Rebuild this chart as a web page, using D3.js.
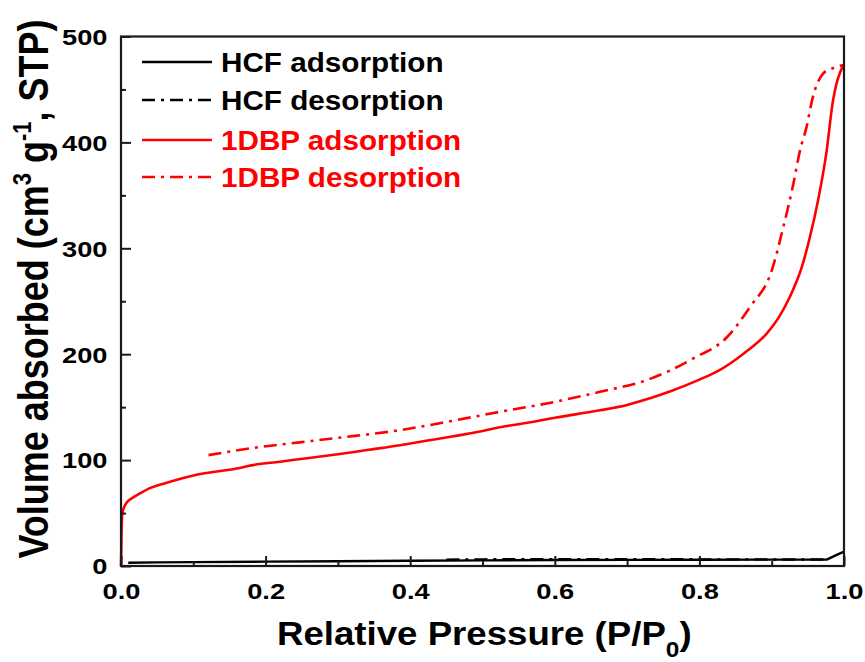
<!DOCTYPE html>
<html>
<head>
<meta charset="utf-8">
<script src="https://cdn.jsdelivr.net/npm/d3@7"></script>
<style>
  html, body { margin: 0; padding: 0; background: #fff; }
  svg { display: block; }
  text { font-family: "Liberation Sans", Arial, sans-serif; font-weight: bold; }
</style>
</head>
<body>
<svg id="chart" width="865" height="662"></svg>
<script>
// ---- Data ----
const hcfAdsX = [0.01, 0.05, 0.1, 0.2, 0.3, 0.4, 0.5, 0.6, 0.7, 0.8, 0.9, 0.976, 0.99, 1.0];
const hcfAdsY = [3, 3.4, 3.7, 4.1, 4.5, 5.0, 5.3, 5.6, 5.8, 5.9, 6.0, 6.0, 10.5, 13.5];

const hcfDesX = [0.45, 0.5, 0.6, 0.7, 0.8, 0.9, 0.976];
const hcfDesY = [6.0, 6.3, 6.5, 6.4, 6.3, 6.2, 6.2];

const dbpAdsX = [0.0, 0.0005, 0.001, 0.002, 0.004, 0.008, 0.015, 0.025, 0.04, 0.06, 0.08, 0.10, 0.13, 0.16,
                 0.18, 0.22, 0.26, 0.30, 0.34, 0.386, 0.42, 0.46, 0.50, 0.524, 0.56, 0.60, 0.6625, 0.70,
                 0.732, 0.76, 0.80, 0.824, 0.861, 0.893, 0.91, 0.925, 0.9415, 0.953, 0.964, 0.976, 0.984, 0.999];
const dbpAdsY = [0, 20, 40, 50, 55, 60, 64, 68, 73.5, 78, 82, 85.5, 89, 92,
                 95, 98.5, 102, 105.5, 109.5, 114, 118, 122.5, 127.5, 131, 135, 140, 147, 152,
                 158.5, 165, 176, 183.5, 200.5, 219.5, 235, 254, 282, 311, 345, 392, 436, 473];

const dbpDesX = [0.121, 0.178, 0.25, 0.30, 0.386, 0.45, 0.524, 0.60, 0.6625, 0.727, 0.7916, 0.838,
                 0.870, 0.90, 0.916, 0.930, 0.939, 0.948, 0.957, 0.971, 0.981, 0.999];
const dbpDesY = [104.7, 111, 117, 121, 128.3, 136, 145.6, 155, 164.5, 175.5, 196, 216,
                 244.6, 279, 320, 361, 392, 414, 443, 465, 469, 473];

const seriesNames = ["HCF adsorption", "HCF desorption", "1DBP adsorption", "1DBP desorption"];
const seriesColors = ["#000000", "#000000", "#ff0000", "#ff0000"];
const seriesDash = [null, "13,6,3,6", null, "13,6,3,6"];

const xTicks = [0, 0.2, 0.4, 0.6, 0.8, 1.0];
const xMinorTicks = [0.1, 0.3, 0.5, 0.7, 0.9];
const yTicks = [0, 100, 200, 300, 400, 500];
const yMinorTicks = [50, 150, 250, 350, 450];

// ---- Layout ----
const svg = d3.select("#chart");
const L = 121, R = 844, T = 36.5, B = 566;
const x = d3.scaleLinear().domain([0, 1]).range([L, R]);
const y = d3.scaleLinear().domain([0, 500]).range([B, T]);

const series = [
  hcfAdsX.map((v, i) => [v, hcfAdsY[i]]),
  hcfDesX.map((v, i) => [v, hcfDesY[i]]),
  dbpAdsX.map((v, i) => [v, dbpAdsY[i]]),
  dbpDesX.map((v, i) => [v, dbpDesY[i]])
];

const line = d3.line().x(d => x(d[0])).y(d => y(d[1]));
const smooth = d3.line().x(d => x(d[0])).y(d => y(d[1])).curve(d3.curveMonotoneX);

series.forEach((s, i) => {
  svg.append("path")
    .datum(s)
    .attr("d", i < 2 ? line : smooth)
    .attr("fill", "none")
    .attr("stroke", seriesColors[i])
    .attr("stroke-width", i < 2 ? 2.4 : 2.6)
    .attr("stroke-dasharray", seriesDash[i])
    .attr("stroke-linejoin", "round");
});

// frame
svg.append("rect")
  .attr("x", L).attr("y", T).attr("width", R - L).attr("height", B - T)
  .attr("fill", "none").attr("stroke", "#1a1a1a").attr("stroke-width", 2.2);

// axes
const tickFont = 22, tickStretch = 1.24;
const xAxis = svg.append("g").attr("transform", `translate(0,${B})`)
  .call(d3.axisBottom(x).tickValues(xTicks).tickFormat(d3.format(".1f")).tickSizeInner(-10).tickSizeOuter(0).tickPadding(17));
const xAxisMinor = svg.append("g").attr("transform", `translate(0,${B})`)
  .call(d3.axisBottom(x).tickValues(xMinorTicks).tickFormat("").tickSizeInner(-5).tickSizeOuter(0));
const yAxis = svg.append("g").attr("transform", `translate(${L},0)`)
  .call(d3.axisLeft(y).tickValues(yTicks).tickFormat(d3.format("d")).tickSizeInner(-10).tickSizeOuter(0).tickPadding(14));
const yAxisMinor = svg.append("g").attr("transform", `translate(${L},0)`)
  .call(d3.axisLeft(y).tickValues(yMinorTicks).tickFormat("").tickSizeInner(-5).tickSizeOuter(0));

[xAxis, xAxisMinor, yAxis, yAxisMinor].forEach(g => {
  g.select(".domain").remove();
  g.selectAll(".tick line").attr("stroke", "#1a1a1a").attr("stroke-width", 2);
  g.selectAll(".tick text")
    .attr("font-family", "Liberation Sans, Arial, sans-serif")
    .attr("font-weight", "bold")
    .attr("font-size", tickFont)
    .attr("fill", "#000");
});
xAxis.selectAll(".tick text")
  .attr("y", null).attr("dy", null)
  .attr("transform", `translate(0,${17 + 15.5}) scale(${tickStretch},1)`);
yAxis.selectAll(".tick text")
  .attr("x", null).attr("dy", null)
  .attr("transform", `translate(-13.5,7.8) scale(${tickStretch},1)`);

// x-axis title
const xt = svg.append("text")
  .attr("transform", "translate(277,645) scale(1.11,1)")
  .attr("font-size", 33).attr("fill", "#000");
xt.append("tspan").text("Relative Pressure (P/P");
xt.append("tspan").attr("font-size", 22).attr("dy", 12).text("0");
xt.append("tspan").attr("dy", -12).text(")");

// y-axis title
const yt = svg.append("text")
  .attr("transform", "translate(48,289) rotate(-90) scale(1,1.18)")
  .attr("text-anchor", "middle")
  .attr("font-size", 36).attr("fill", "#000");
yt.append("tspan").text("Volume absorbed (cm");
yt.append("tspan").attr("font-size", 22).attr("dy", -14).text("3");
yt.append("tspan").attr("dy", 14).text(" g");
yt.append("tspan").attr("font-size", 22).attr("dy", -14).text("-1");
yt.append("tspan").attr("dy", 14).text(", STP)");

// legend
const legendY = [62, 100, 140, 177];
seriesNames.forEach((name, i) => {
  svg.append("line")
    .attr("x1", 142).attr("x2", 212)
    .attr("y1", legendY[i]).attr("y2", legendY[i])
    .attr("stroke", seriesColors[i]).attr("stroke-width", 2.6)
    .attr("stroke-dasharray", seriesDash[i]);
  svg.append("text")
    .attr("transform", `translate(221,${legendY[i] + 10}) scale(1.06,1)`)
    .attr("font-size", 28)
    .attr("fill", seriesColors[i])
    .text(name);
});
</script>
</body>
</html>
